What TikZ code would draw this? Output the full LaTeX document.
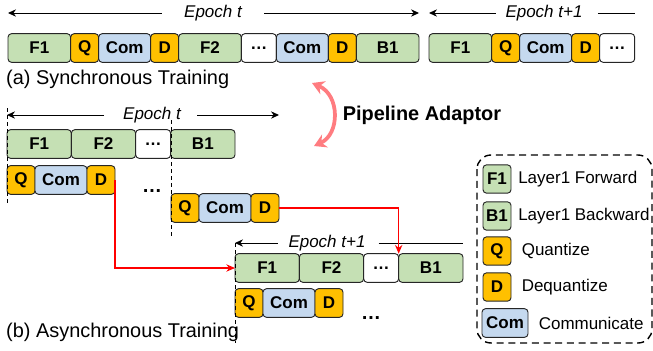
\documentclass[tikz,border=0pt]{standalone}
\usepackage{fontspec}
\setmainfont{Liberation Sans}
\usetikzlibrary{positioning, arrows.meta}

\definecolor{fgreen}{HTML}{C5E0B4}
\definecolor{qgold}{HTML}{FFC000}
\definecolor{cblue}{HTML}{C5D9EF}
\definecolor{adapt}{HTML}{FF7C80}

\begin{document}
\begin{tikzpicture}[
    x=0.03cm, y=-0.03cm,
    box/.style={rectangle, draw=black!85, rounded corners=3pt, line width=0.8pt, outer sep=0pt, minimum height=0.86cm, inner sep=1pt, font=\fontsize{14.5}{16}\selectfont\bfseries},
    fwd/.style={box, fill=fgreen, minimum width=1.88cm},
    fwdb/.style={fwd, minimum width=1.93cm},
    qdbox/.style={box, fill=qgold, minimum width=0.84cm},
    combox/.style={box, fill=cblue, minimum width=1.56cm},
    etcbox/.style={box, fill=white, minimum width=1.05cm},
    keybox/.style={box, minimum width=0.84cm, minimum height=0.85cm},
    epoch/.style={font=\fontsize{14.5}{16}\selectfont\itshape, inner sep=0pt},
    span/.style={-{Stealth[length=2.4mm, width=2.2mm]}, line width=0.8pt},
    guide/.style={dashed, line width=0.7pt},
    link/.style={-{Stealth[length=2.6mm, width=2.2mm]}, line width=1pt, red},
    adaptor/.style={{Stealth[length=3.6mm, width=4.2mm]}-{Stealth[length=3.6mm, width=4.2mm]}, line width=3.2pt, adapt},
    caption/.style={font=\fontsize{17}{20}\selectfont, anchor=west, inner sep=0pt},
    keytext/.style={font=\fontsize{14.5}{17}\selectfont, inner sep=0pt},
    more/.style={font=\fontsize{17}{20}\selectfont\bfseries, anchor=base, inner sep=0pt}
]
\useasboundingbox (0,0) rectangle (653,350);

% (a) Synchronous training, epoch t
\coordinate (s0) at (8,48);
\foreach \n/\s/\t [remember=\n as \p (initially s0)] in {s1/fwd/F1, s2/qdbox/Q, s3/combox/Com, s4/qdbox/D, s5/fwd/F2, s6/etcbox/\ldots, s7/combox/Com, s8/qdbox/D, s9/fwd/B1} {
    \node[\s, right=0pt of \p] (\n) {\t};
}

% (a) epoch t+1
\coordinate (n0) at (429,48);
\foreach \n/\s/\t [remember=\n as \p (initially n0)] in {n1/fwd/F1, n2/qdbox/Q, n3/combox/Com, n4/qdbox/D, n5/etcbox/\ldots} {
    \node[\s, right=0pt of \p] (\n) {\t};
}

% Epoch spans (top)
\node[epoch] (ept) at (213,13) {Epoch t};
\draw[span] ([xshift=-19pt]ept.west) -- (s1.west |- ept);
\draw[span] ([xshift=19pt]ept.east) -- (s9.east |- ept);
\node[epoch] (epn) at (544,13) {Epoch t+1};
\draw[span] ([xshift=-8pt]epn.west) -- (n1.west |- epn);
\draw[line width=0.8pt] ([xshift=13pt]epn.east) -- (n5.east |- epn);

\node[caption] (capa) at (6,79) {(a) Synchronous Training};

% Pipeline adaptor
\coordinate (adtop) at (312,83);
\coordinate (adbot) at (314,146);
\draw[adaptor] (adtop) .. controls (340,95) and (340,134) .. (adbot);
\node[font=\fontsize{17}{20}\selectfont\bfseries] (adlbl) at (422,115) {Pipeline Adaptor};

% (b) Asynchronous training: compute of epoch t
\coordinate (u0) at (7,144);
\foreach \n/\s/\t [remember=\n as \p (initially u0)] in {u1/fwdb/F1, u2/fwdb/F2, u3/etcbox/\ldots, u4/fwdb/B1} {
    \node[\s, right=0pt of \p] (\n) {\t};
}

% Communication groups
\coordinate (v0) at (7,180);
\foreach \n/\s/\t [remember=\n as \p (initially v0)] in {v1/qdbox/Q, v2/combox/Com, v3/qdbox/D} {
    \node[\s, right=0pt of \p] (\n) {\t};
}
\coordinate (w0) at (171,208);
\foreach \n/\s/\t [remember=\n as \p (initially w0)] in {w1/qdbox/Q, w2/combox/Com, w3/qdbox/D} {
    \node[\s, right=0pt of \p] (\n) {\t};
}
\node[more] (morev) at (152,192) {\ldots};

% Compute of epoch t+1
\coordinate (x0) at (235,268);
\foreach \n/\s/\t [remember=\n as \p (initially x0)] in {x1/fwdb/F1, x2/fwdb/F2, x3/etcbox/\ldots, x4/fwdb/B1} {
    \node[\s, right=0pt of \p] (\n) {\t};
}
\coordinate (y0) at (235,303);
\foreach \n/\s/\t [remember=\n as \p (initially y0)] in {y1/qdbox/Q, y2/combox/Com, y3/qdbox/D} {
    \node[\s, right=0pt of \p] (\n) {\t};
}
\node[more] (morey) at (371,319) {\ldots};

% Epoch spans (bottom)
\node[epoch] (ebt) at (152,115) {Epoch t};
\draw[span] ([xshift=-16pt]ebt.west) -- (u1.west |- ebt);
\draw[span] ([xshift=14pt]ebt.east) -- (w3.east |- ebt);
\node[epoch] (ebn) at (327,243) {Epoch t+1};
\draw[span] ([xshift=-9pt]ebn.west) -- (x1.west |- ebn);
\draw[line width=0.8pt] ([xshift=11pt]ebn.east) -- (x4.east |- ebn);

% Epoch boundaries
\draw[guide] (7,108) -- (7,205);
\draw[guide] (171,120) -- (171,238);
\draw[guide] (235,243) -- (235,343);

% Dependencies
\draw[link] (v3.east) |- (x1.west);
\draw[link] (w3.east) -| (x4.north west);

\node[caption] (capb) at (6,332) {(b) Asynchronous Training};

% Legend
\draw[dashed, line width=1.2pt, dash pattern=on 6pt off 4pt, rounded corners=12pt] (477,155) rectangle (652,343);
\node[keybox, fill=fgreen] (kf) at (497,179) {F1};
\node[keybox, fill=fgreen] (kb) at (497,216) {B1};
\node[keybox, fill=qgold] (kq) at (497,251) {Q};
\node[keybox, fill=qgold] (kd) at (497,287) {D};
\node[box, fill=cblue, minimum width=1.38cm] (kc) at (505,323) {Com};
\node[keytext, right=6pt of kf] (kft) {Layer1 Forward};
\node[keytext, right=6pt of kb] (kbt) {Layer1 Backward};
\node[keytext, right=9pt of kq] (kqt) {Quantize};
\node[keytext, right=9pt of kd] (kdt) {Dequantize};
\node[keytext, right=9pt of kc] (kct) {Communicate};

\end{tikzpicture}
\end{document}
